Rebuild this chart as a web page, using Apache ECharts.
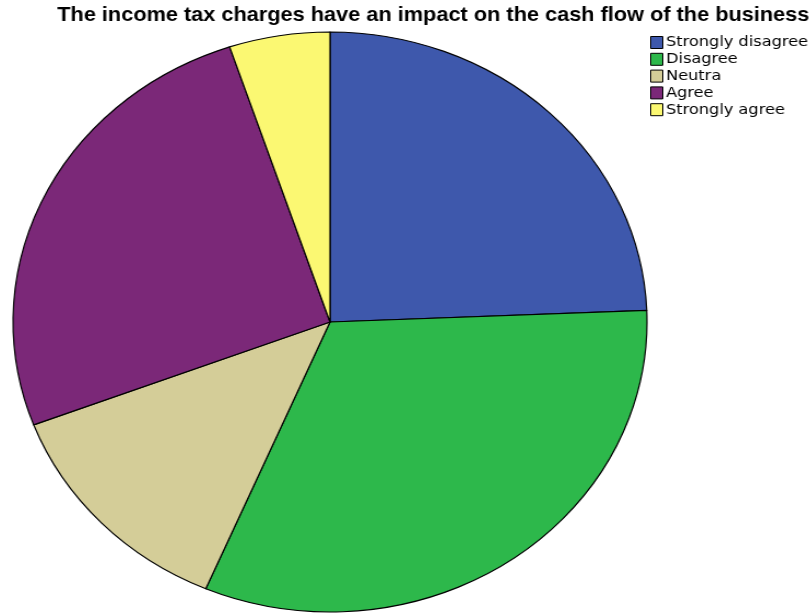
<!DOCTYPE html>
<html>
<head>
<meta charset="utf-8">
<script src="https://cdn.jsdelivr.net/npm/echarts@6/dist/echarts.min.js"></script>
<style>
  html, body { margin: 0; padding: 0; background: #fff; }
  #wrap { position: relative; width: 812px; height: 613px; overflow: hidden; }
  #pie { position: absolute; left: 0; top: 0; width: 660px; height: 613px;
         transform-origin: 330px 322px; transform: scaleX(1.093); }
  #front { position: absolute; left: 0; top: 0; width: 740px; height: 613px;
           transform-origin: 0 0; transform: scaleX(1.1); }
</style>
</head>
<body>
<div id="wrap">
  <div id="pie"></div>
  <div id="front"></div>
</div>
<script>
const titleText = 'The income tax charges have an impact on the cash flow of the business';
const categories = ['Strongly disagree', 'Disagree', 'Neutra', 'Agree', 'Strongly agree'];
const counts = [19, 25, 10, 20, 4];
const colors = ['#3e58ac', '#2db84b', '#d4cd98', '#7b2878', '#fbf872'];

const data = categories.map((name, i) => ({ name, value: counts[i] }));

// Pie drawn in its own layer, stretched horizontally to an ellipse
const pieChart = echarts.init(document.getElementById('pie'), null, { renderer: 'canvas' });
pieChart.setOption({
  animation: false,
  color: colors,
  series: [{
    type: 'pie',
    center: [330, 322],
    radius: [0, 290],
    startAngle: 90,
    clockwise: true,
    label: { show: false },
    labelLine: { show: false },
    itemStyle: { borderColor: '#000', borderWidth: 1.2 },
    emphasis: { disabled: true },
    data
  }]
});

// Title and legend layer (also slightly widened)
const front = echarts.init(document.getElementById('front'), null, { renderer: 'canvas' });
front.setOption({
  animation: false,
  color: colors,
  title: {
    text: titleText,
    left: 47, top: 1,
    textStyle: { fontFamily: 'Liberation Sans, Arial, sans-serif', fontSize: 19.75, fontWeight: 'bold', color: '#000' }
  },
  legend: {
    orient: 'vertical',
    left: 586, top: 30,
    itemWidth: 11, itemHeight: 12, itemGap: 1.8,
    icon: 'rect',
    itemStyle: { borderColor: '#000', borderWidth: 1 },
    textStyle: { fontFamily: 'DejaVu Sans, sans-serif', fontSize: 14.7, lineHeight: 12, color: '#000', padding: [0, 0, 0, -2] },
    data: categories
  },
  series: [{
    type: 'pie',
    radius: 0,
    silent: true,
    label: { show: false },
    labelLine: { show: false },
    data
  }]
});
</script>
</body>
</html>
